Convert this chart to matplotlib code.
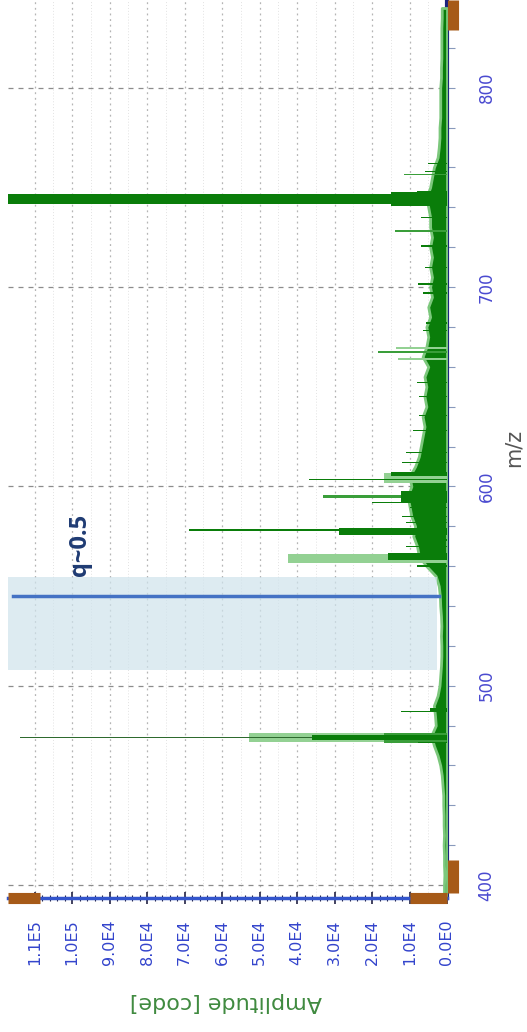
import numpy as np
import matplotlib.pyplot as plt
from matplotlib.ticker import MultipleLocator

# noise floor of the spectrum, read every 5 m/z (amplitude in 1E3 codes)
env_mz = np.arange(395, 845, 5)
env_amp = [0.8, 0.8, 0.7, 0.8, 0.8, 0.9, 0.8, 0.9, 0.9, 1.0,
           1.0, 1.2, 1.4, 1.8, 2.5, 3.5, 4.2, 3.0, 3.2, 3.5,
           2.5, 2.0, 1.8, 1.6, 1.5, 1.5, 1.6, 1.5, 1.6, 1.8,
           1.9, 2.2, 3.0, 5.5, 7.5, 8.0, 9.0, 8.5, 9.5, 10.0,
           10.5, 9.5, 10.0, 8.5, 7.5, 7.0, 6.5, 6.0, 6.5, 5.5,
           6.0, 5.5, 6.0, 5.0, 6.5, 5.5, 5.0, 5.5, 4.5, 5.0,
           4.0, 4.5, 4.0, 4.5, 4.0, 4.5, 4.0, 4.5, 4.5, 5.0,
           5.5, 4.5, 4.0, 3.5, 2.5, 2.2, 2.0, 2.0, 1.8, 1.8,
           1.8, 1.8, 1.6, 1.6, 1.5, 1.5, 1.5, 1.5, 1.4, 1.4]

# peaks: m/z, amplitude (1E3), width in m/z, shade
peak_mz = [744, 744, 756.5, 758, 728, 720.5, 701.5, 682, 678, 669.5,
           667.5, 664, 635.5, 604, 606, 603.5, 595, 594.5, 592, 589.5,
           577.5, 578, 573, 564, 565, 560, 487, 488, 474, 474,
           474, 474, 471.5,
           652, 645, 628, 617, 612, 585, 582, 570, 697, 710,
           735, 748, 762]
peak_amp = [125, 15, 11.5, 6, 14, 7, 7.7, 5.5, 6.5, 13.6,
            18.4, 13, 7.5, 16.8, 15, 36.8, 33, 12.3, 20, 10,
            28.8, 68.8, 7, 42.4, 15.7, 8, 12.3, 4.5, 114, 52.8,
            36, 16.8, 7.7,
            8, 7.5, 9, 11, 12, 12, 11, 11, 6.5, 6,
            7, 8, 5]
peak_w = [5.0, 7.0, 0.8, 0.6, 1.0, 0.8, 0.8, 0.6, 0.6, 0.8,
          1.0, 1.0, 0.8, 5.0, 2.0, 0.8, 1.5, 6.0, 0.8, 0.8,
          3.5, 0.9, 0.8, 4.5, 3.5, 1.0, 0.8, 2.0, 0.8, 4.5,
          2.5, 5.0, 0.8,
          0.6, 0.6, 0.6, 0.6, 0.8, 0.6, 0.6, 0.6, 0.6, 0.6,
          0.6, 0.6, 0.6]
peak_shade = ['d', 'd', 'm', 'd', 'm', 'd', 'd', 'd', 'd', 'l',
              'm', 'l', 'd', 'l', 'd', 'd', 'm', 'd', 'd', 'd',
              'd', 'd', 'd', 'l', 'd', 'd', 'd', 'd', 'g', 'l',
              'd', 'm', 'd',
              'd', 'd', 'd', 'd', 'd', 'd', 'd', 'd', 'd', 'd',
              'd', 'd', 'd']

amp_ticks = [0, 1e4, 2e4, 3e4, 4e4, 5e4, 6e4, 7e4, 8e4, 9e4, 1e5, 1.1e5]
amp_labels = ['0.0E0', '1.0E4', '2.0E4', '3.0E4', '4.0E4', '5.0E4',
              '6.0E4', '7.0E4', '8.0E4', '9.0E4', '1.0E5', '1.1E5']
mz_ticks = [400, 500, 600, 700, 800]

shades = {'l': '#93d193', 'm': '#3a9e3a', 'd': '#0a7d0a', 'g': '#2e6a2e'}
order = {'l': 1, 'm': 2, 'g': 3, 'd': 4}

fig = plt.figure(figsize=(5.27, 10.32), dpi=100)
ax = fig.add_axes([8/527, 134/1032, 439/527, 898/1032])
ax.set_xlim(117.1e3, 0)
ax.set_ylim(393.5, 844)

# grid
ax.set_xticks(amp_ticks)
ax.set_xticklabels(amp_labels, rotation=90, fontsize=11.5, color='#3344cc')
ax.xaxis.set_minor_locator(MultipleLocator(2e3))
ax.yaxis.tick_right()
ax.set_yticks(mz_ticks)
ax.set_yticklabels([str(t) for t in mz_ticks], rotation=90, fontsize=12,
                   color='#4a4ad0', va='center')
ax.yaxis.set_minor_locator(MultipleLocator(20))
ax.grid(axis='x', which='major', color='#b5b5b5', ls=(0, (1.5, 3)), lw=0.9)
ax.grid(axis='y', which='major', color='#8c8c8c', ls=(0, (4, 4)), lw=0.9)
for a in amp_ticks[:-1]:
    ax.axvline(a + 5e3, color='#e2e2e2', ls=(0, (1, 2)), lw=0.7, zorder=0)

ax.tick_params(axis='x', which='major', direction='inout', length=9,
               width=1.2, color='#222244', pad=11)
ax.tick_params(axis='x', which='minor', direction='inout', length=4,
               width=0.8, color='#222244')
ax.tick_params(axis='y', which='both', direction='out', length=6,
               width=0.8, color='#8899bb', pad=16)

for s in ['top', 'left']:
    ax.spines[s].set_visible(False)
ax.spines['bottom'].set_color('#3355cc')
ax.spines['bottom'].set_linewidth(2.5)
ax.spines['right'].set_color('#1a237e')
ax.spines['right'].set_linewidth(3)

# spectrum
amp_codes = np.array(env_amp) * 1e3
ax.fill_betweenx(env_mz, 0, amp_codes, color=shades['d'], lw=2,
                 edgecolor='#7cc87c', zorder=3)
for i in sorted(range(len(peak_mz)), key=lambda k: order[peak_shade[k]]):
    ax.barh(peak_mz[i], peak_amp[i] * 1e3, height=peak_w[i], left=0,
            color=shades[peak_shade[i]], lw=0, zorder=3 + order[peak_shade[i]])

# highlighted q~0.5 region
ax.axhspan(508, 554.5, xmin=0, xmax=429/439, color='#cfe3ec', alpha=0.7,
           lw=0, zorder=8)
ax.axhline(545, xmin=5/439, xmax=431/439, color='#4472c4', lw=2.5, zorder=9)
ax.text(97.9e3, 570.5, 'q~0.5', rotation=90, ha='center', va='center',
        fontsize=17, fontweight='bold', color='#1f3b73', family='Open Sans',
        zorder=10)

# range handles
brown = '#a65a18'
ax.plot([0, 32/439], [0, 0], transform=ax.transAxes, color=brown, lw=8,
        solid_capstyle='butt', clip_on=False, zorder=11)
ax.plot([402/439, 1], [0, 0], transform=ax.transAxes, color=brown, lw=8,
        solid_capstyle='butt', clip_on=False, zorder=11)
ax.plot([445/439, 445/439], [0.006, 0.042], transform=ax.transAxes,
        color=brown, lw=8, solid_capstyle='butt', clip_on=False, zorder=11)
ax.plot([445/439, 445/439], [0.967, 1.0], transform=ax.transAxes,
        color=brown, lw=8, solid_capstyle='butt', clip_on=False, zorder=11)

fig.text(514/527, 1 - 448/1032, 'm/z', rotation=90, ha='center', va='center',
         fontsize=15, color='#555555')
fig.text(226/527, 1 - 1002/1032, 'Amplitude [code]', rotation=180,
         ha='center', va='center', fontsize=16, color='#3f8a3f')

plt.savefig('out.png', dpi=100)
